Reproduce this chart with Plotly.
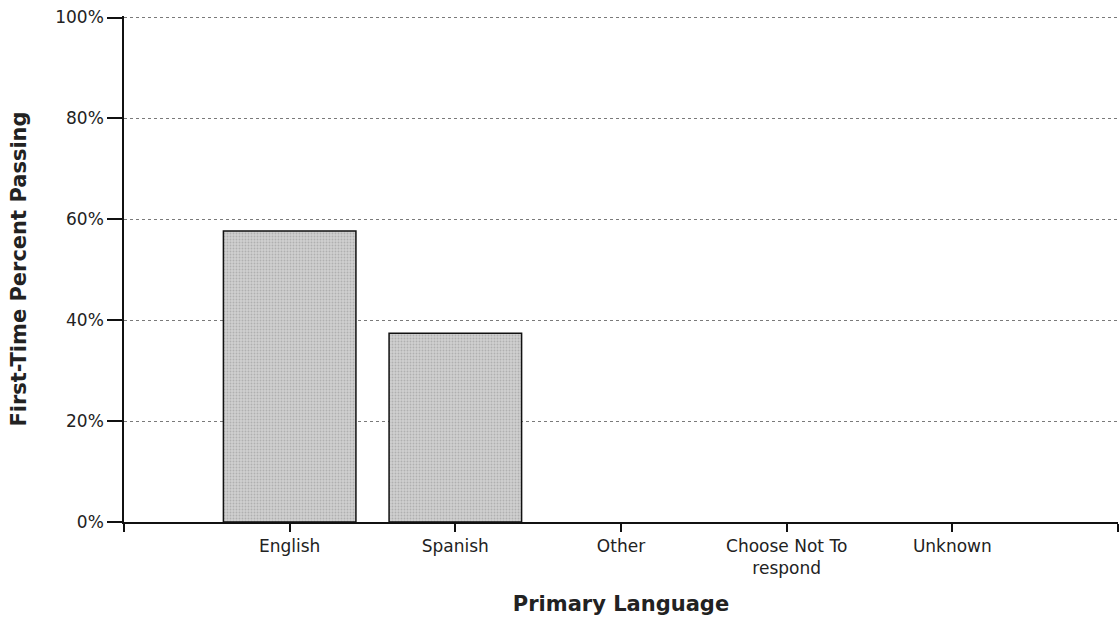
import plotly.graph_objects as go

categories = ["English", "Spanish", "Other", "Choose Not To<br>respond", "Unknown"]
values = [57.7, 37.4, None, None, None]
y_ticks = [0, 20, 40, 60, 80, 100]
y_tick_labels = ["0%", "20%", "40%", "60%", "80%", "100%"]

positions = list(range(len(categories)))

fig = go.Figure()
fig.add_trace(go.Bar(
    x=positions,
    y=values,
    width=0.8,
    marker=dict(
        color="#c2c2c2",
        line=dict(color="#111111", width=1.5),
        pattern=dict(shape=".", fgcolor="#8f8f8f", bgcolor="#d0d0d0", size=3, solidity=0.3),
    ),
    hovertemplate="%{y}%<extra></extra>",
))

fig.update_layout(
    width=1119, height=621,
    margin=dict(l=124, r=1, t=16, b=99),
    paper_bgcolor="white", plot_bgcolor="white",
    font=dict(family="DejaVu Sans, sans-serif", size=18, color="#222222"),
    showlegend=False,
)
fig.update_xaxes(
    range=[-1, 5],
    tickmode="array",
    tickvals=[-1] + positions + [5],
    ticktext=[""] + categories + [""],
    ticks="outside", ticklen=8, tickwidth=1.5, tickcolor="#111111",
    showline=True, linecolor="#111111", linewidth=1.5,
    showgrid=False, zeroline=False,
    tickfont=dict(size=17),
    title=dict(text="<b>Primary Language</b>", font=dict(size=21), standoff=19),
)
fig.update_yaxes(
    range=[0, 100.3],
    tickmode="array",
    tickvals=y_ticks,
    ticktext=y_tick_labels,
    ticks="outside", ticklen=15, tickwidth=1.5, tickcolor="#111111",
    showline=True, linecolor="#111111", linewidth=1.5,
    showgrid=True, gridcolor="#7a7a7a", gridwidth=1, griddash="dot",
    zeroline=False,
    tickfont=dict(size=17),
    title=dict(text="<b>First-Time Percent Passing</b>", font=dict(size=21), standoff=23),
)

fig.write_html(
    "out.html",
    config={"displayModeBar": False},
    post_script="document.body.style.margin='0';",
)
